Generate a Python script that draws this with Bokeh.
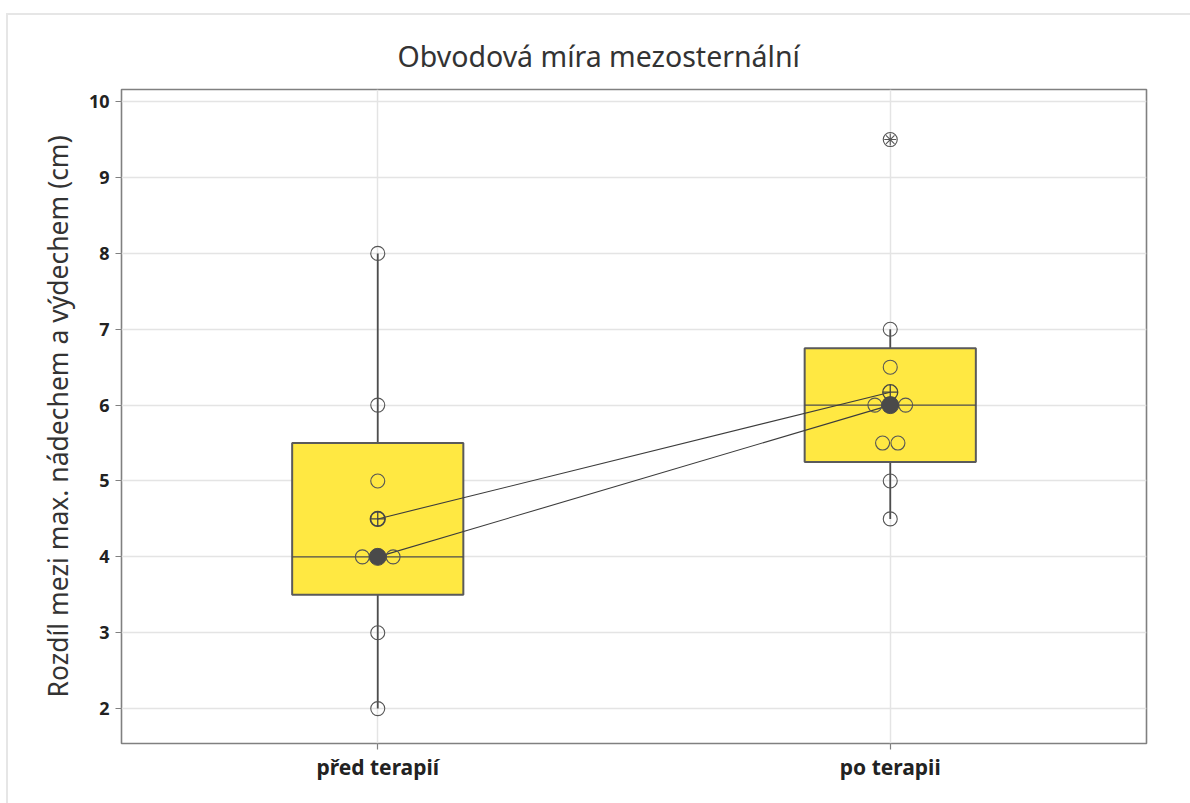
from collections import Counter

from bokeh.embed import file_html
from bokeh.models import ColumnDataSource, Title
from bokeh.plotting import figure
from bokeh.resources import INLINE

# --- data -------------------------------------------------------------
groups = ["před terapií", "po terapii"]

before_values = [2.0, 3.0, 4.0, 4.0, 4.0, 4.5, 5.0, 6.0, 8.0]
after_values = [4.5, 5.0, 5.5, 5.5, 6.0, 6.0, 6.0, 6.5, 7.0, 9.5]

q1 = [3.5, 5.25]
median = [4.0, 6.0]
q3 = [5.5, 6.75]
whisker_low = [2.0, 4.5]
whisker_high = [8.0, 7.0]
means = [4.5, 6.17]

outlier_group = ["po terapii"]
outlier_values = [9.5]

y_ticks = [2, 3, 4, 5, 6, 7, 8, 9, 10]
title_text = "Obvodová míra mezosternální"
y_label = "Rozdíl mezi max. nádechem a výdechem (cm)"

# --- styling ----------------------------------------------------------
FONT = "Noto Sans"
BOX_FILL = "#FFE842"
DARK = "#4d4d4d"
FRAME = "#808080"
GRID = "#e4e4e4"
DODGE_STEP = 0.03
BOX_HALF = 0.167

p = figure(
    x_range=groups,
    y_range=(1.54, 10.16),
    width=1184,
    height=790,
    output_backend="svg",
    toolbar_location=None,
    min_border_left=113,
    min_border_right=46,
    min_border_top=74,
    min_border_bottom=62,
)
p.margin = (13, 0, 0, 6)
p.styles = {"border-top": "2px solid #e6e6e6", "border-left": "2px solid #e6e6e6"}
p.background_fill_color = "white"
p.border_fill_color = "white"
p.outline_line_color = FRAME
p.outline_line_width = 1.6

p.add_layout(
    Title(text=title_text, align="left", text_font=FONT, text_font_size="28.5px",
          text_font_style="normal", text_color="#333333", offset=276, standoff=29),
    "above",
)

# grid and axes
p.xgrid.grid_line_color = GRID
p.xgrid.grid_line_width = 1.5
p.ygrid.grid_line_color = GRID
p.ygrid.grid_line_width = 1.5
p.yaxis.ticker = y_ticks
p.yaxis.minor_tick_line_color = None
for ax in (p.xaxis[0], p.yaxis[0]):
    ax.axis_line_color = None
    ax.major_tick_line_color = FRAME
    ax.major_tick_line_width = 1.2
    ax.major_tick_in = 0
    ax.major_tick_out = 6
    ax.major_label_text_font = FONT
    ax.major_label_text_color = "#222222"
    ax.major_label_text_font_style = "bold"
p.yaxis.major_label_text_font_size = "18px"
p.xaxis.major_label_text_font_size = "21px"
p.yaxis.major_label_standoff = 6
p.xaxis.major_label_standoff = 3
p.yaxis.axis_label = y_label
p.yaxis.axis_label_text_font = FONT
p.yaxis.axis_label_text_font_style = "normal"
p.yaxis.axis_label_text_font_size = "26.5px"
p.yaxis.axis_label_text_color = "#333333"
p.yaxis.axis_label_standoff = 10

# boxes and whiskers
box_src = ColumnDataSource(dict(
    g=groups, q1=q1, q3=q3, med=median, lo=whisker_low, hi=whisker_high,
    gl=[(g, -BOX_HALF) for g in groups], gr=[(g, BOX_HALF) for g in groups],
))
p.segment(x0="g", y0="lo", x1="g", y1="q1", source=box_src, line_color=DARK, line_width=1.8)
p.segment(x0="g", y0="q3", x1="g", y1="hi", source=box_src, line_color=DARK, line_width=1.8)
p.vbar(x="g", top="q3", bottom="q1", width=2 * BOX_HALF, source=box_src,
       fill_color=BOX_FILL, line_color="#5a5a5a", line_width=2)
p.segment(x0="gl", y0="med", x1="gr", y1="med", source=box_src,
          line_color=DARK, line_width=1.2)


def dodged(group, values):
    """Spread repeated values side by side around the group centre."""
    counts = Counter(values)
    seen = Counter()
    xs = []
    for v in values:
        n = counts[v]
        k = seen[v]
        seen[v] += 1
        xs.append((group, (k - (n - 1) / 2) * DODGE_STEP))
    return xs


pt_x = dodged(groups[0], before_values) + dodged(groups[1], after_values)
pt_y = before_values + after_values

# connect lines for means and medians
p.line(x=groups, y=means, line_color="#3c3c3c", line_width=1.1)
p.line(x=groups, y=median, line_color="#3c3c3c", line_width=1.1)

# individual values
p.scatter(x=pt_x, y=pt_y, marker="circle", size=14, fill_color=None,
          line_color="#555555", line_width=1.1)

# outlier symbol
p.scatter(x=outlier_group, y=outlier_values, marker="asterisk", size=12,
          line_color="#555555", line_width=1.1)

# mean and median symbols
p.scatter(x=groups, y=means, marker="circle_cross", size=15, fill_color=None,
          line_color="#444444", line_width=1.3)
p.scatter(x=groups, y=median, marker="circle", size=17, fill_color="#4a4a4a",
          line_color="#4a4a4a")

open("out.html", "w").write(file_html(p, INLINE))
